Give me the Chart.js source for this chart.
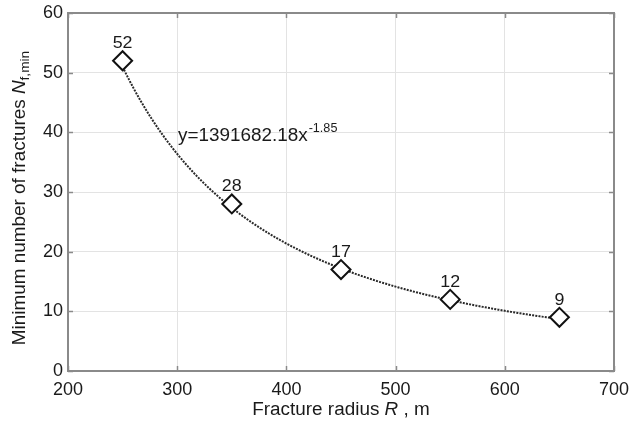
<!DOCTYPE html>
<html>
<head>
<meta charset="utf-8">
<script src="https://cdn.jsdelivr.net/npm/chart.js@4/dist/chart.umd.min.js"></script>
<style>
  html, body { margin: 0; padding: 0; background: #fff; }
  canvas { display: block; }
</style>
</head>
<body>
<canvas id="c" width="630" height="423"></canvas>
<script>
// Fracture radius (m) and the minimum number of fractures measured at each
const radii = [250, 350, 450, 550, 650];
const minFractures = [52, 28, 17, 12, 9];

// Axis ticks
const xTicks = [200, 300, 400, 500, 600, 700];
const yTicks = [0, 10, 20, 30, 40, 50, 60];

// Power-law fit y = A * x^B, as written in the equation label
const fitA = 1391682.18;
const fitB = -1.85;
const fitText = 'y=1391682.18x';
const fitExpText = '-1.85';

const FONT = '"Liberation Sans", Arial, Helvetica, sans-serif';
const STRETCH = 1.05; // slightly wide lettering for the hand-drawn texts

// Trend line sampled along the fitted equation between the first and last radius
const fitPoints = [];
for (let x = radii[0]; x <= radii[radii.length - 1]; x += 2) {
  fitPoints.push({ x: x, y: fitA * Math.pow(x, fitB) });
}

// draws a run of text pieces (each with its own font and baseline shift) from (x, y)
function drawRun(ctx, parts, x, y, align) {
  let total = 0;
  parts.forEach(p => { ctx.font = p.f; p.w = ctx.measureText(p.t).width * STRETCH; total += p.w; });
  let cx = align === 'center' ? x - total / 2 : x;
  parts.forEach(p => {
    ctx.save();
    ctx.font = p.f;
    ctx.translate(cx, y + (p.dy || 0));
    ctx.scale(STRETCH, 1);
    ctx.fillText(p.t, 0, 0);
    ctx.restore();
    cx += p.w;
  });
}

const boxPlugin = {
  id: 'box',
  afterDatasetsDraw(chart) {
    const { ctx, chartArea: a, scales } = chart;
    ctx.save();
    // inward tick marks on all four sides
    ctx.strokeStyle = '#8a8a8a';
    ctx.lineWidth = 1.5;
    const len = 5;
    ctx.beginPath();
    xTicks.forEach(v => {
      const px = Math.round(scales.x.getPixelForValue(v)) + 0.5;
      ctx.moveTo(px, a.bottom); ctx.lineTo(px, a.bottom - len);
      ctx.moveTo(px, a.top); ctx.lineTo(px, a.top + len);
    });
    yTicks.forEach(v => {
      const py = Math.round(scales.y.getPixelForValue(v)) + 0.5;
      ctx.moveTo(a.left, py); ctx.lineTo(a.left + len, py);
      ctx.moveTo(a.right, py); ctx.lineTo(a.right - len, py);
    });
    ctx.stroke();
    // frame
    ctx.lineWidth = 2;
    ctx.strokeStyle = '#8a8a8a';
    ctx.strokeRect(a.left, a.top, a.right - a.left, a.bottom - a.top);
    ctx.restore();
  },
  afterDraw(chart) {
    const { ctx, chartArea: a } = chart;
    ctx.save();
    ctx.fillStyle = '#1a1a1a';
    ctx.textBaseline = 'alphabetic';
    ctx.textAlign = 'left';

    // value labels above the markers
    const meta = chart.getDatasetMeta(0);
    meta.data.forEach((pt, i) => {
      drawRun(ctx, [{ t: String(minFractures[i]), f: '17px ' + FONT }], pt.x, pt.y - 12.5, 'center');
    });

    // fitted equation
    drawRun(ctx, [
      { t: fitText, f: '18px ' + FONT },
      { t: ' ', f: '3px ' + FONT },
      { t: fitExpText, f: '12px ' + FONT, dy: -9 }
    ], 178, 141, 'left');

    // x-axis title: Fracture radius R , m
    drawRun(ctx, [
      { t: 'Fracture radius ', f: '18px ' + FONT },
      { t: 'R', f: 'italic 18px ' + FONT },
      { t: ' , m', f: '18px ' + FONT }
    ], (a.left + a.right) / 2, 415, 'center');

    // y-axis title: Minimum number of fractures N_f,min
    ctx.translate(25, 198);
    ctx.rotate(-Math.PI / 2);
    drawRun(ctx, [
      { t: 'Minimum number of fractures ', f: '18px ' + FONT },
      { t: 'N', f: 'italic 18px ' + FONT },
      { t: 'f,min', f: '13px ' + FONT, dy: 4 }
    ], 0, 0, 'center');
    ctx.restore();
  }
};

new Chart(document.getElementById('c'), {
  type: 'scatter',
  data: {
    datasets: [
      {
        label: 'Minimum number of fractures',
        data: radii.map((r, i) => ({ x: r, y: minFractures[i] })),
        pointStyle: 'rectRot',
        pointRadius: 9.5,
        pointHoverRadius: 9.5,
        pointBorderWidth: 2,
        borderColor: '#111',
        backgroundColor: '#fff',
        showLine: false
      },
      {
        label: 'Fit',
        data: fitPoints,
        showLine: true,
        pointRadius: 0,
        borderColor: '#2a2a2a',
        borderWidth: 2,
        borderDash: [2, 1.2],
        tension: 0,
        fill: false
      }
    ]
  },
  options: {
    responsive: false,
    animation: false,
    events: [],
    layout: { padding: { top: 13, right: 16, left: 0, bottom: 0 } },
    plugins: {
      legend: { display: false },
      tooltip: { enabled: false },
      title: { display: false }
    },
    scales: {
      x: {
        type: 'linear',
        min: 200,
        max: 700,
        afterBuildTicks: s => { s.ticks = xTicks.map(v => ({ value: v })); },
        afterFit: s => { s.height = 52; s.paddingLeft = 0; s.paddingRight = 0; },
        border: { display: false },
        grid: { color: '#e3e3e3', lineWidth: 1, drawTicks: false },
        ticks: {
          padding: 8,
          maxRotation: 0,
          color: '#1a1a1a',
          font: { family: FONT, size: 18 }
        }
      },
      y: {
        type: 'linear',
        min: 0,
        max: 60,
        afterBuildTicks: s => { s.ticks = yTicks.map(v => ({ value: v })); },
        afterFit: s => { s.width = 68; s.paddingTop = 0; s.paddingBottom = 0; },
        border: { display: false },
        grid: { color: '#e3e3e3', lineWidth: 1, drawTicks: false },
        ticks: {
          padding: 5,
          color: '#1a1a1a',
          font: { family: FONT, size: 18 }
        }
      }
    }
  },
  plugins: [boxPlugin]
});
</script>
</body>
</html>
